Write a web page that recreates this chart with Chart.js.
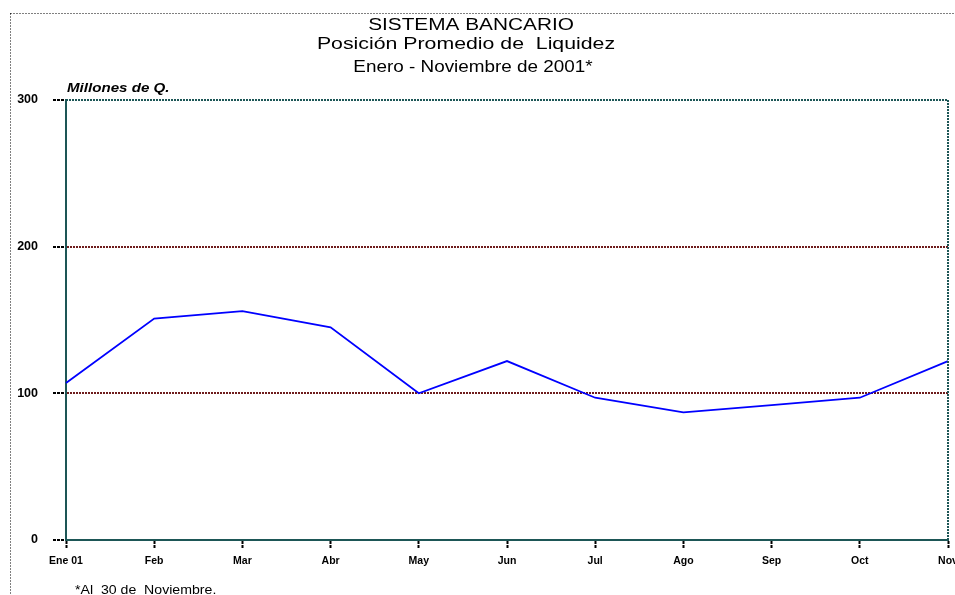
<!DOCTYPE html>
<html>
<head>
<meta charset="utf-8">
<script src="https://cdn.jsdelivr.net/npm/chart.js@4.4.0/dist/chart.umd.min.js"></script>
<style>
  body { margin: 0; background: #fff; }
  #wrap { width: 955px; height: 595px; }
</style>
</head>
<body>
<div id="wrap"><canvas id="ChartLiquidez" width="955" height="595"></canvas></div>
<script>
// Posicion promedio de liquidez, millones de Q.
const months = ["Ene 01", "Feb", "Mar", "Abr", "May", "Jun", "Jul", "Ago", "Sep", "Oct", "Nov"]
const liquidez = [107, 151, 156, 145, 100, 122, 97, 87, 92, 97, 122]
const yTicks = [0, 100, 200, 300]
const gridValues = [100, 200]

const titleLines = ["SISTEMA BANCARIO", "Posición Promedio de  Liquidez", "Enero - Noviembre de 2001*"]
const unitLabel = "Millones de Q."
const footNote = "*Al  30 de  Noviembre."

const frameColor = "#1d5656"
const gridColor = "#6e1c1c"
const font = "'Liberation Sans', Arial, sans-serif"

// texto ensanchado (el original esta estirado a lo ancho)
function wideText(c, txt, x, y, fnt, sx, align){
    c.save()
    c.font = fnt
    c.textAlign = align
    c.textBaseline = "middle"
    c.translate(x, y)
    c.scale(sx, 1)
    c.fillText(txt, 0, 0)
    c.restore()
}

// marco exterior punteado, marco del grafico y textos
const decoPlugin = {
    id: "deco",
    beforeDraw(chart){
        const c = chart.ctx
        c.save()
        c.fillStyle = "#fff"
        c.fillRect(0, 0, chart.width, chart.height)
        c.strokeStyle = "#000"
        c.lineWidth = 1
        c.setLineDash([1, 2])
        c.strokeRect(10.5, 13.5, 1000, 1000)
        c.restore()
    },
    afterDraw(chart){
        const c = chart.ctx
        const a = chart.chartArea
        c.save()
        c.strokeStyle = frameColor
        c.lineWidth = 2
        c.setLineDash([2, 1])
        c.beginPath()
        c.moveTo(a.left, a.top)
        c.lineTo(a.right, a.top)
        c.lineTo(a.right, a.bottom)
        c.stroke()
        c.restore()

        c.fillStyle = "#000"
        wideText(c, titleLines[0], 471, 26, "16px " + font, 1.3, "center")
        wideText(c, titleLines[1], 466, 44.5, "16.5px " + font, 1.29, "center")
        wideText(c, titleLines[2], 473, 67.5, "16px " + font, 1.18, "center")
        wideText(c, unitLabel, 67, 89, "italic bold 12px " + font, 1.26, "left")
        wideText(c, footNote, 75, 591, "12.5px " + font, 1.13, "left")
    }
}

new Chart(document.getElementById("ChartLiquidez"), {
    type: "line",
    data: {
        labels: months,
        datasets: [{
            label: "Liquidez",
            data: liquidez,
            borderColor: "#0000ff",
            borderWidth: 1.8,
            pointRadius: 0,
            tension: 0,
            fill: false
        }]
    },
    options: {
        responsive: false,
        animation: false,
        layout: { padding: { left: 0, top: 100, right: 7, bottom: 0 } },
        plugins: { legend: { display: false }, title: { display: false }, tooltip: { enabled: false } },
        scales: {
            x: {
                offset: false,
                grid: {
                    drawOnChartArea: false,
                    tickLength: 9,
                    tickColor: "#000",
                    tickBorderDash: [3, 1],
                    tickWidth: 2
                },
                border: { color: frameColor, width: 2, dash: [2, 1] },
                ticks: {
                    autoSkip: false,
                    maxRotation: 0,
                    padding: 6,
                    color: "#000",
                    font: { family: font, size: 10.5, weight: "bold" }
                },
                afterFit(scale){
                    scale.height = 55
                    scale.paddingLeft = 0
                    scale.paddingRight = 0
                }
            },
            y: {
                min: 0,
                max: 300,
                afterBuildTicks(scale){
                    scale.ticks = yTicks.map(v => ({ value: v }))
                },
                grid: {
                    color: ctx => gridValues.includes(ctx.tick && ctx.tick.value) ? gridColor : "rgba(0,0,0,0)",
                    lineWidth: 2,
                    borderDash: [3, 1],
                    tickLength: 13,
                    tickColor: "#000",
                    tickBorderDash: [3, 1],
                    tickWidth: 2
                },
                border: { color: frameColor, width: 2, dash: [2, 1] },
                ticks: {
                    padding: 15,
                    color: "#000",
                    font: { family: font, size: 12.5, weight: "bold" }
                },
                afterFit(scale){
                    scale.width = 66
                    scale.paddingTop = 0
                    scale.paddingBottom = 0
                }
            }
        }
    },
    plugins: [decoPlugin]
})
</script>
</body>
</html>
